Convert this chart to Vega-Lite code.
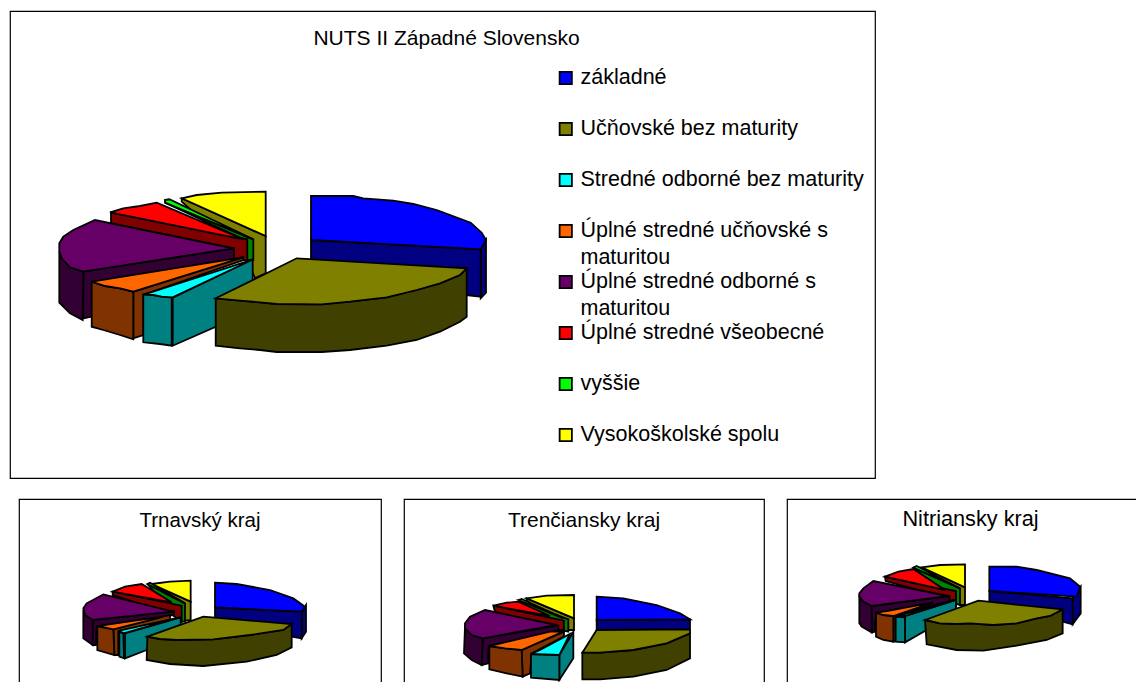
{
"$schema":"https://vega.github.io/schema/vega-lite/v6.json",
"padding":{"left":7,"top":10,"right":0,"bottom":0},
"background":"white",
"bounds":"flush",
"config":{"font":"Liberation Sans","view":{"stroke":"black","strokeWidth":1.2,"fill":"white"},"title":{"font":"Liberation Sans","fontSize":21,"fontWeight":"normal","color":"black","anchor":"middle","baseline":"middle"}},
"datasets":{"shapes":[
{"k":"NUTS","part":"Vysokoškolské spolu (bok)","id":"n1","x":[181.7,265.7,265.7,255,246.7,181.7],"y":[198.3,236,273.3,278,260,201.7]},
{"k":"NUTS","part":"Vysokoškolské spolu","id":"n2","x":[181.7,196.7,221.7,265.7,265.7],"y":[198.3,195,192.7,191.7,236]},
{"k":"NUTS","part":"vyššie (bok)","id":"n3","x":[165,253.3,253.3,245,245],"y":[202.7,239.3,260,260,240]},
{"k":"NUTS","part":"vyššie","id":"n4","x":[165,169.3,253.3,165],"y":[200,199.3,239.3,202.7]},
{"k":"NUTS","part":"Úplné stredné  všeobecné (bok)","id":"n5","x":[111,247.3,247.3,233.3,233.3,111],"y":[212.7,239.3,260,260,248.3,223.3]},
{"k":"NUTS","part":"Úplné stredné  všeobecné","id":"n6","x":[110,123.3,140,156.7,243.3],"y":[212.3,208.3,206,202.7,239.3]},
{"k":"NUTS","part":"Úplné stredné  odborné s maturitou (bok)","id":"n7","x":[83.3,234,234,91.7,83.3],"y":[271.7,248.3,258.3,316.7,318.3]},
{"k":"NUTS","part":"Úplné stredné  odborné s maturitou (bok)","id":"n8","x":[59.3,61.7,70,83.3,82.7,70,59.3],"y":[251.7,258.3,267.3,271.7,320,313.3,302.7]},
{"k":"NUTS","part":"Úplné stredné  odborné s maturitou","id":"n9","x":[59.3,63.3,73.3,95,233.3,83.3,70,61.7,59.3],"y":[243.3,236.7,230,220,248.3,271.7,267.3,258.3,251.7]},
{"k":"NUTS","part":"Úplné stredné učňovské s maturitou (bok)","id":"n10","x":[133.3,243.3,243.3,143.3,143.3,133.3],"y":[291.7,256.7,260,295,335,338.3]},
{"k":"NUTS","part":"Úplné stredné učňovské s maturitou (bok)","id":"n11","x":[91.7,105,120,133.3,133.3,120,103.3,91.7],"y":[281.7,286,288.3,291.7,339.3,335,330,326.7]},
{"k":"NUTS","part":"Úplné stredné učňovské s maturitou","id":"n12","x":[91.7,105,120,133.3,243.3,230],"y":[281.7,286,288.3,291.7,257.3,259.3]},
{"k":"NUTS","part":"Stredné odborné bez maturity (bok)","id":"n13","x":[172.7,252.7,252.7,215.7,172.7],"y":[297.7,259.3,280,326.7,345.7]},
{"k":"NUTS","part":"Stredné odborné bez maturity (bok)","id":"n14","x":[143.3,153.3,161.7,171.7,171.7,160,143.3],"y":[294.3,295,296.7,297.7,345.7,344,342.3]},
{"k":"NUTS","part":"Stredné odborné bez maturity","id":"n15","x":[143.3,150,253.3,172.7,161.7,153.3],"y":[294.3,292.7,259.3,297.3,296.7,295]},
{"k":"NUTS","part":"základné (bok)","id":"n16","x":[480.7,486,486,480.7],"y":[249.3,240,292.7,298.3]},
{"k":"NUTS","part":"základné (bok)","id":"n17","x":[311,480.7,480.7,466,311],"y":[240,249.3,296.7,295,270]},
{"k":"NUTS","part":"základné","id":"n18","x":[311,353.3,363.3,393.3,413.3,436.7,470.7,481.7,486,480.7,311],"y":[196,196,198.3,200.7,204,210,222.7,232.7,240,249.3,240]},
{"k":"NUTS","part":"Učňovské bez maturity (bok)","id":"n19","x":[215.7,240,260,276.7,321.7,350,386.7,416.7,440,460,466.7,466.7,460,440,416.7,386.7,350,321.7,276.7,260,240,215.7],"y":[298.3,300.7,302.3,304,304.3,301.7,297.3,290,283.3,275,268.3,316.7,321.7,331.7,340,345.7,350,352,352,350,348.3,345.7]},
{"k":"NUTS","part":"Učňovské bez maturity","id":"n20","x":[215.7,296.7,466.7,460,440,416.7,386.7,350,321.7,276.7,260,240],"y":[298.3,258.3,268.3,275,283.3,290,297.3,301.7,304.3,304,302.3,300.7]},

{"k":"Trnavský kraj","part":"Vysokoškolské spolu (bok)","id":"a1","x":[245,362,362,345,240],"y":[42,95,150,152,60]},
{"k":"Trnavský kraj","part":"Vysokoškolské spolu","id":"a2","x":[245,300,362,362],"y":[42,35,32,95]},
{"k":"Trnavský kraj","part":"vyššie (bok)","id":"a3","x":[232,345,345,333],"y":[42,100,155,155]},
{"k":"Trnavský kraj","part":"vyššie","id":"a4","x":[232,240,345],"y":[42,38,100]},
{"k":"Trnavský kraj","part":"Úplné stredné  všeobecné (bok)","id":"a5","x":[128,335,335,300,128],"y":[65,107,155,130,75]},
{"k":"Trnavský kraj","part":"Úplné stredné  všeobecné","id":"a6","x":[128,165,215,305],"y":[65,50,42,97]},
{"k":"Trnavský kraj","part":"Úplné stredné  odborné s maturitou (bok)","id":"a7","x":[68,312,312,80,78,68],"y":[150,122,135,170,225,225]},
{"k":"Trnavský kraj","part":"Úplné stredné  odborné s maturitou (bok)","id":"a8","x":[40,45,68,68,40],"y":[120,135,150,225,205]},
{"k":"Trnavský kraj","part":"Úplné stredné  odborné s maturitou","id":"a9","x":[40,50,100,310,68,45],"y":[115,100,73,125,150,135]},
{"k":"Trnavský kraj","part":"Úplné stredné učňovské s maturitou (bok)","id":"a10","x":[130,300,300,145,145,133],"y":[178,135,150,185,255,255]},
{"k":"Trnavský kraj","part":"Úplné stredné učňovské s maturitou (bok)","id":"a11","x":[82,130,133,82],"y":[168,178,255,240]},
{"k":"Trnavský kraj","part":"Úplné stredné učňovské s maturitou","id":"a12","x":[82,130,270,240],"y":[168,178,143,145]},
{"k":"Trnavský kraj","part":"Stredné odborné bez maturity (bok)","id":"a13","x":[165,332,332,230,165],"y":[190,142,195,240,265]},
{"k":"Trnavský kraj","part":"Stredné odborné bez maturity (bok)","id":"a14","x":[148,160,162,148],"y":[185,190,265,260]},
{"k":"Trnavský kraj","part":"Stredné odborné bez maturity","id":"a15","x":[148,165,330,160],"y":[182,178,142,190]},
{"k":"Trnavský kraj","part":"základné (bok)","id":"a16","x":[695,708,708,695],"y":[125,105,185,205]},
{"k":"Trnavský kraj","part":"základné (bok)","id":"a17","x":[435,695,695,665,435],"y":[112,125,205,200,145]},
{"k":"Trnavský kraj","part":"základné","id":"a18","x":[435,500,600,670,705,695,435],"y":[38,42,60,85,110,125,112]},
{"k":"Trnavský kraj","part":"Učňovské bez maturity (bok)","id":"a19","x":[232,270,320,430,540,640,665,665,620,530,400,300,230],"y":[200,207,210,208,195,180,162,232,255,275,288,282,270]},
{"k":"Trnavský kraj","part":"Učňovské bez maturity","id":"a20","x":[232,400,665,640,540,430,320,270],"y":[200,140,162,180,195,208,210,207]},

{"k":"Trenčiansky kraj","part":"Vysokoškolské spolu (bok)","id":"b1","x":[230,372,372,350,230],"y":[55,115,150,150,62]},
{"k":"Trenčiansky kraj","part":"Vysokoškolské spolu","id":"b2","x":[230,290,372,372],"y":[55,47,45,115]},
{"k":"Trenčiansky kraj","part":"vyššie (bok)","id":"b3","x":[205,355,355,330],"y":[60,118,155,150]},
{"k":"Trenčiansky kraj","part":"vyššie","id":"b4","x":[205,215,340],"y":[60,57,115]},
{"k":"Trenčiansky kraj","part":"Úplné stredné  všeobecné (bok)","id":"b5","x":[130,342,342,320,135],"y":[77,122,150,150,95]},
{"k":"Trenčiansky kraj","part":"Úplné stredné  všeobecné","id":"b6","x":[130,170,205,300],"y":[77,68,65,108]},
{"k":"Trenčiansky kraj","part":"Úplné stredné  odborné s maturitou (bok)","id":"b7","x":[98,325,325,115,115,95],"y":[175,137,150,205,250,255]},
{"k":"Trenčiansky kraj","part":"Úplné stredné  odborné s maturitou (bok)","id":"b8","x":[45,65,98,95,65,42],"y":[140,165,175,255,240,220]},
{"k":"Trenčiansky kraj","part":"Úplné stredné  odborné s maturitou","id":"b9","x":[45,60,105,320,98,65,45],"y":[130,110,90,135,175,165,145]},
{"k":"Trenčiansky kraj","part":"Úplné stredné učňovské s maturitou (bok)","id":"b10","x":[215,342,342,245,240,218],"y":[210,155,170,220,280,290]},
{"k":"Trenčiansky kraj","part":"Úplné stredné učňovské s maturitou (bok)","id":"b11","x":[118,165,215,218,170,118],"y":[198,205,210,290,280,268]},
{"k":"Trenčiansky kraj","part":"Úplné stredné učňovské s maturitou","id":"b12","x":[118,165,215,340,300],"y":[198,205,210,155,155]},
{"k":"Trenčiansky kraj","part":"Stredné odborné bez maturity (bok)","id":"b13","x":[328,370,370,328],"y":[225,155,235,300]},
{"k":"Trenčiansky kraj","part":"Stredné odborné bez maturity (bok)","id":"b14","x":[243,328,328,243],"y":[222,225,300,293]},
{"k":"Trenčiansky kraj","part":"Stredné odborné bez maturity","id":"b15","x":[243,270,360,328],"y":[222,210,162,225]},
{"k":"Trenčiansky kraj","part":"základné (bok)","id":"b16","x":[440,720,720,440],"y":[120,118,148,150]},
{"k":"Trenčiansky kraj","part":"základné","id":"b17","x":[440,520,620,690,720,440],"y":[50,55,75,100,118,120]},
{"k":"Trenčiansky kraj","part":"Učňovské bez maturity (bok)","id":"b18","x":[397,450,550,650,720,720,650,550,450,397],"y":[218,218,210,190,160,235,270,290,298,298]},
{"k":"Trenčiansky kraj","part":"Učňovské bez maturity","id":"b19","x":[397,440,720,720,650,550,450],"y":[218,150,148,160,190,210,218]},

{"k":"Nitriansky kraj","part":"Vysokoškolské spolu (bok)","id":"c1","x":[215,345,345,330,225],"y":[37,97,150,150,50]},
{"k":"Nitriansky kraj","part":"Vysokoškolské spolu","id":"c2","x":[215,270,345,345],"y":[37,30,28,97]},
{"k":"Nitriansky kraj","part":"vyššie (bok)","id":"c3","x":[190,330,330,315],"y":[38,100,150,145]},
{"k":"Nitriansky kraj","part":"vyššie","id":"c4","x":[190,200,325],"y":[38,33,98]},
{"k":"Nitriansky kraj","part":"Úplné stredné  všeobecné (bok)","id":"c5","x":[105,318,318,295,107],"y":[65,108,150,130,78]},
{"k":"Nitriansky kraj","part":"Úplné stredné  všeobecné","id":"c6","x":[105,145,190,285],"y":[65,50,42,105]},
{"k":"Nitriansky kraj","part":"Úplné stredné  odborné s maturitou (bok)","id":"c7","x":[65,298,298,75,75,65],"y":[153,123,140,195,230,232]},
{"k":"Nitriansky kraj","part":"Úplné stredné  odborné s maturitou (bok)","id":"c8","x":[28,40,65,65,35,28],"y":[125,140,153,232,215,205]},
{"k":"Nitriansky kraj","part":"Úplné stredné  odborné s maturitou","id":"c9","x":[28,40,70,295,65,40,28],"y":[115,100,78,123,153,140,125]},
{"k":"Nitriansky kraj","part":"Úplné stredné učňovské s maturitou (bok)","id":"c10","x":[130,310,310,137,137,130],"y":[183,135,145,187,258,260]},
{"k":"Nitriansky kraj","part":"Úplné stredné učňovské s maturitou (bok)","id":"c11","x":[78,100,130,130,100,78],"y":[173,180,183,260,255,245]},
{"k":"Nitriansky kraj","part":"Úplné stredné učňovské s maturitou","id":"c12","x":[78,110,250,130,100],"y":[173,168,142,183,180]},
{"k":"Nitriansky kraj","part":"Stredné odborné bez maturity (bok)","id":"c13","x":[165,318,318,230,165],"y":[183,135,190,225,262]},
{"k":"Nitriansky kraj","part":"Stredné odborné bez maturity (bok)","id":"c14","x":[137,165,165,137],"y":[185,187,262,260]},
{"k":"Nitriansky kraj","part":"Stredné odborné bez maturity","id":"c15","x":[137,160,318,165],"y":[185,178,135,183]},
{"k":"Nitriansky kraj","part":"základné (bok)","id":"c16","x":[668,692,692,668],"y":[130,95,175,208]},
{"k":"Nitriansky kraj","part":"základné (bok)","id":"c17","x":[418,668,668,638,418],"y":[108,130,208,200,138]},
{"k":"Nitriansky kraj","part":"základné","id":"c18","x":[418,500,560,660,690,680,418],"y":[35,35,45,70,95,125,108]},
{"k":"Nitriansky kraj","part":"Učňovské bez maturity (bok)","id":"c19","x":[225,270,320,360,430,500,560,600,638,638,590,500,400,320,230],"y":[195,205,207,205,210,205,190,183,163,235,255,272,287,285,268]},
{"k":"Nitriansky kraj","part":"Učňovské bez maturity","id":"c20","x":[225,385,638,600,560,500,430,360,320,270],"y":[195,137,163,183,190,205,210,205,207,205]}
]},
"vconcat":[
{"width":865,"height":467,
 "title":{"text":"NUTS II Západné Slovensko","offset":-38,"dx":4},
 "data":{"name":"shapes"},
 "transform":[{"filter":"datum.k=='NUTS'"},{"flatten":["x","y"]}],
 "mark":{"type":"line","filled":true,"interpolate":"linear-closed","stroke":"black","strokeWidth":1.8,"strokeJoin":"miter"},
 "encoding":{
  "x":{"field":"x","type":"quantitative","axis":null,"scale":{"domain":[10,875],"nice":false,"zero":false}},
  "y":{"field":"y","type":"quantitative","axis":null,"scale":{"domain":[478,11],"nice":false,"zero":false}},
  "detail":{"field":"id"},
  "order":{"value":null},
  "color":{"field":"part","type":"nominal",
   "scale":{"domain":["základné","Učňovské bez maturity","Stredné odborné bez maturity","Úplné stredné učňovské s maturitou","Úplné stredné  odborné s maturitou","Úplné stredné  všeobecné","vyššie","Vysokoškolské spolu","základné (bok)","Učňovské bez maturity (bok)","Stredné odborné bez maturity (bok)","Úplné stredné učňovské s maturitou (bok)","Úplné stredné  odborné s maturitou (bok)","Úplné stredné  všeobecné (bok)","vyššie (bok)","Vysokoškolské spolu (bok)"],
   "range":["#0000FF","#808000","#00FFFF","#FF6600","#660066","#FF0000","#00FF00","#FFFF00","#000080","#404000","#008080","#803300","#330033","#800000","#008000","#808000"]},
   "legend":{"orient":"none","legendX":545,"legendY":55,"title":null,"padding":0,"rowPadding":0,
    "values":["základné","Učňovské bez maturity","Stredné odborné bez maturity","Úplné stredné učňovské s maturitou","Úplné stredné  odborné s maturitou","Úplné stredné  všeobecné","vyššie","Vysokoškolské spolu"],
    "symbolType":"square","symbolSize":150,"symbolStrokeColor":"black","symbolStrokeWidth":1.8,"labelFontSize":21.5,"labelFont":"Liberation Sans","labelColor":"black","labelOffset":4,"labelLimit":400,"clipHeight":50.6,
    "labelExpr":"indexof(datum.label,' s maturitou')>0 ? [replace(datum.label,' maturitou',''), 'maturitou'] : datum.label",
    "encode":{"symbols":{"update":{"y":{"value":12}}},"labels":{"update":{"y":{"value":12},"lineHeight":{"value":27}}}}}
  }
 }
},
{"hconcat":[
 {"width":1,"height":1,"view":{"stroke":null,"fill":null},"data":{"values":[{"spacer":1}]},"mark":{"type":"point","opacity":0}},
 {"hconcat":[
 {"width":362,"height":190,
  "title":{"text":"Trnavský kraj","offset":-32,"fontSize":20.5},
  "data":{"name":"shapes"},
  "transform":[{"filter":"datum.k=='Trnavský kraj'"},{"flatten":["x","y"]}],
  "mark":{"type":"line","filled":true,"interpolate":"linear-closed","stroke":"black","strokeWidth":1.8},
  "encoding":{
   "x":{"field":"x","type":"quantitative","axis":null,"scale":{"domain":[-153,933],"nice":false,"zero":false}},
   "y":{"field":"y","type":"quantitative","axis":null,"scale":{"domain":[357,-213],"nice":false,"zero":false}},
   "detail":{"field":"id"},"order":{"value":null},
   "color":{"field":"part","type":"nominal","legend":null,
   "scale":{"domain":["základné","Učňovské bez maturity","Stredné odborné bez maturity","Úplné stredné učňovské s maturitou","Úplné stredné  odborné s maturitou","Úplné stredné  všeobecné","vyššie","Vysokoškolské spolu","základné (bok)","Učňovské bez maturity (bok)","Stredné odborné bez maturity (bok)","Úplné stredné učňovské s maturitou (bok)","Úplné stredné  odborné s maturitou (bok)","Úplné stredné  všeobecné (bok)","vyššie (bok)","Vysokoškolské spolu (bok)"],
   "range":["#0000FF","#808000","#00FFFF","#FF6600","#660066","#FF0000","#00FF00","#FFFF00","#000080","#404000","#008080","#803300","#330033","#800000","#008000","#808000"]}}
  }
 },
 {"width":360,"height":190,
  "title":{"text":"Trenčiansky kraj","offset":-32},
  "data":{"name":"shapes"},
  "transform":[{"filter":"datum.k=='Trenčiansky kraj'"},{"flatten":["x","y"]}],
  "mark":{"type":"line","filled":true,"interpolate":"linear-closed","stroke":"black","strokeWidth":1.8},
  "encoding":{
   "x":{"field":"x","type":"quantitative","axis":null,"scale":{"domain":[-138,942],"nice":false,"zero":false}},
   "y":{"field":"y","type":"quantitative","axis":null,"scale":{"domain":[327,-243],"nice":false,"zero":false}},
   "detail":{"field":"id"},"order":{"value":null},
   "color":{"field":"part","type":"nominal","legend":null,
   "scale":{"domain":["základné","Učňovské bez maturity","Stredné odborné bez maturity","Úplné stredné učňovské s maturitou","Úplné stredné  odborné s maturitou","Úplné stredné  všeobecné","vyššie","Vysokoškolské spolu","základné (bok)","Učňovské bez maturity (bok)","Stredné odborné bez maturity (bok)","Úplné stredné učňovské s maturitou (bok)","Úplné stredné  odborné s maturitou (bok)","Úplné stredné  všeobecné (bok)","vyššie (bok)","Vysokoškolské spolu (bok)"],
   "range":["#0000FF","#808000","#00FFFF","#FF6600","#660066","#FF0000","#00FF00","#FFFF00","#000080","#404000","#008080","#803300","#330033","#800000","#008000","#808000"]}}
  }
 },
 {"width":360,"height":190,
  "title":{"text":"Nitriansky kraj","offset":-32,"dx":3.5,"fontSize":21.7},
  "data":{"name":"shapes"},
  "transform":[{"filter":"datum.k=='Nitriansky kraj'"},{"flatten":["x","y"]}],
  "mark":{"type":"line","filled":true,"interpolate":"linear-closed","stroke":"black","strokeWidth":1.8},
  "encoding":{
   "x":{"field":"x","type":"quantitative","axis":null,"scale":{"domain":[-189,891],"nice":false,"zero":false}},
   "y":{"field":"y","type":"quantitative","axis":null,"scale":{"domain":[402,-168],"nice":false,"zero":false}},
   "detail":{"field":"id"},"order":{"value":null},
   "color":{"field":"part","type":"nominal","legend":null,
   "scale":{"domain":["základné","Učňovské bez maturity","Stredné odborné bez maturity","Úplné stredné učňovské s maturitou","Úplné stredné  odborné s maturitou","Úplné stredné  všeobecné","vyššie","Vysokoškolské spolu","základné (bok)","Učňovské bez maturity (bok)","Stredné odborné bez maturity (bok)","Úplné stredné učňovské s maturitou (bok)","Úplné stredné  odborné s maturitou (bok)","Úplné stredné  všeobecné (bok)","vyššie (bok)","Vysokoškolské spolu (bok)"],
   "range":["#0000FF","#808000","#00FFFF","#FF6600","#660066","#FF0000","#00FF00","#FFFF00","#000080","#404000","#008080","#803300","#330033","#800000","#008000","#808000"]}}
  }
 }
 ],"spacing":21}
],"spacing":4}
],
"spacing":21,
"resolve":{"legend":{"color":"independent"}}
}
